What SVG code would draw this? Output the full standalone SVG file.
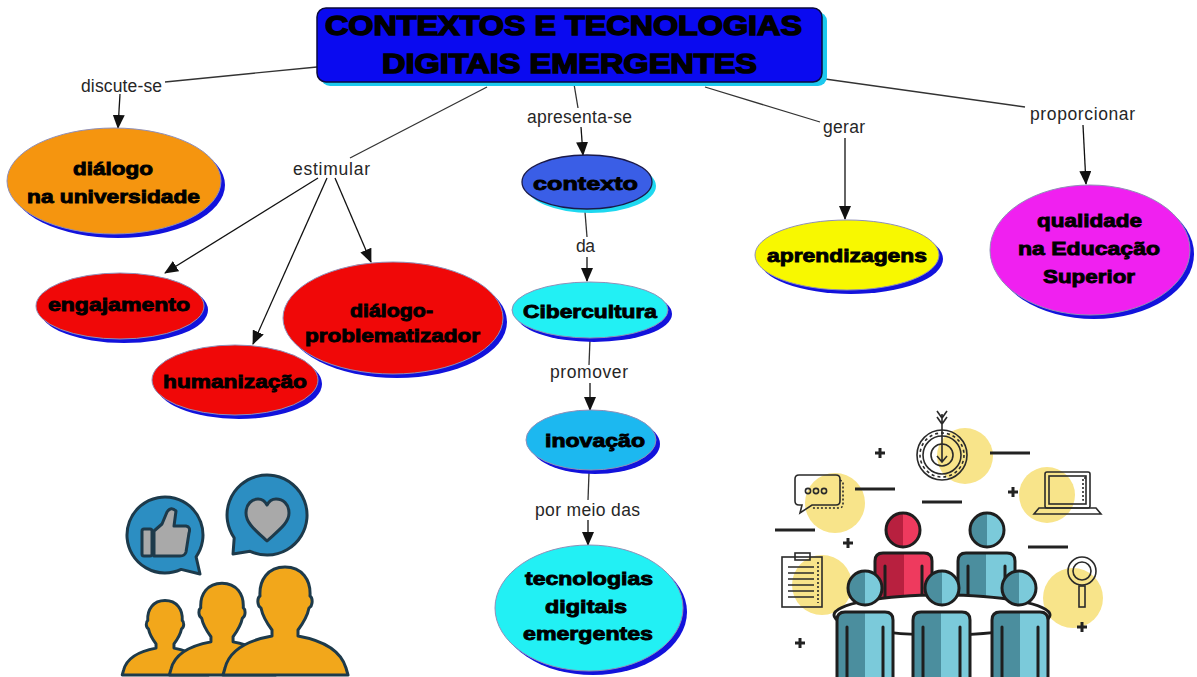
<svg xmlns="http://www.w3.org/2000/svg" width="1197" height="677" viewBox="0 0 1197 677">
  <defs>
    <marker id="arrow" markerUnits="userSpaceOnUse" markerWidth="14" markerHeight="12" refX="13" refY="6" orient="auto">
      <path d="M0,0 L14,6 L0,12 Z" fill="#111"/>
    </marker>
    <linearGradient id="teal" x1="0" y1="0" x2="1" y2="0">
      <stop offset="0" stop-color="#4B8E9E"/>
      <stop offset="0.5" stop-color="#4B8E9E"/>
      <stop offset="0.5" stop-color="#7BCADA"/>
      <stop offset="1" stop-color="#7BCADA"/>
    </linearGradient>
    <linearGradient id="red" x1="0" y1="0" x2="1" y2="0">
      <stop offset="0" stop-color="#B8203F"/>
      <stop offset="0.5" stop-color="#B8203F"/>
      <stop offset="0.5" stop-color="#EE3A5E"/>
      <stop offset="1" stop-color="#EE3A5E"/>
    </linearGradient>
    <path id="person" d="M 0 -108 C 17 -108 26 -95 25 -79 C 28 -77 28 -69 24 -67 C 22 -57 16 -49 13 -45 L 13 -39 C 35 -35 55 -27 61 -7 L 63 0 L -62 0 L -60 -7 C -55 -27 -35 -35 -13 -39 L -13 -45 C -16 -49 -22 -57 -24 -67 C -28 -69 -28 -77 -25 -79 C -26 -95 -17 -108 0 -108 Z"/>
  </defs>
  <style>
    .node { stroke: #8f8fb8; stroke-width: 1; }
    .shadow-blue { fill: #1212DC; }
    .shadow-cyan { fill: #1ED8F0; }
    .ntext { font-family: "Liberation Sans", Arial, sans-serif; font-weight: bold; font-size: 19px; fill: #000; stroke: #000; stroke-width: 0.9; }
    .ttext { font-family: "Liberation Sans", Arial, sans-serif; font-weight: bold; font-size: 28px; fill: #000; stroke: #000; stroke-width: 1.5; }
    .label { font-family: "Liberation Sans", Arial, sans-serif; font-size: 17.5px; fill: #262626; }
    .line { stroke: #333; stroke-width: 1.3; fill: none; }
    .arr { stroke: #111; stroke-width: 1.3; fill: none; marker-end: url(#arrow); }
    .ink { stroke: #1E1E1E; stroke-width: 3; stroke-linejoin: round; stroke-linecap: round; }
    .thin { stroke: #2a2a2a; stroke-width: 1.6; fill: none; }
    .dash { stroke: #222; stroke-width: 3; }
    .sun { fill: #F8E48A; }
    .icon-ink { stroke: #1D3A4B; stroke-width: 3; stroke-linejoin: round; }
  </style>

  <rect width="1197" height="677" fill="#fff"/>

  <!-- connectors -->
  <g id="connectors">
    <path class="line" d="M317,67 L165,82"/>
    <path class="arr" d="M120,94 L118,128"/>
    <path class="line" d="M487,87 L350,158"/>
    <path class="arr" d="M318,178 L165,273"/>
    <path class="arr" d="M327,178 L253,344"/>
    <path class="arr" d="M335,178 L371,262"/>
    <path class="line" d="M574,84 L578,108"/>
    <path class="arr" d="M581,127 L583,155"/>
    <path class="line" d="M585,212 L587,237"/>
    <path class="arr" d="M587,257 L587,281"/>
    <path class="line" d="M590,339 L589,365"/>
    <path class="arr" d="M590,383 L590,410"/>
    <path class="line" d="M589,473 L588,500"/>
    <path class="arr" d="M588,520 L588,545"/>
    <path class="line" d="M705,87 L820,122"/>
    <path class="arr" d="M845,138 L845,219"/>
    <path class="line" d="M825,79 L1025,107"/>
    <path class="arr" d="M1083,125 L1086,184"/>
    <text class="label" x="81" y="92" textLength="81">discute-se</text>
    <text class="label" x="293" y="175" textLength="77">estimular</text>
    <text class="label" x="527" y="123" textLength="105">apresenta-se</text>
    <text class="label" x="576" y="252" textLength="19">da</text>
    <text class="label" x="550" y="378" textLength="78">promover</text>
    <text class="label" x="535" y="516" textLength="105">por meio das</text>
    <text class="label" x="823" y="133" textLength="42">gerar</text>
    <text class="label" x="1030" y="120" textLength="105">proporcionar</text>
  </g>

  <!-- title -->
  <g id="title">
    <rect x="321" y="12" width="506" height="74" rx="9" fill="#1CC8EE"/>
    <rect x="317" y="8" width="505" height="74" rx="9" fill="#0A0AF0" stroke="#0a0a3c" stroke-width="1.5"/>
    <text class="ttext" x="325" y="35" textLength="477" lengthAdjust="spacingAndGlyphs">CONTEXTOS E TECNOLOGIAS</text>
    <text class="ttext" x="382" y="73" textLength="375" lengthAdjust="spacingAndGlyphs">DIGITAIS EMERGENTES</text>
  </g>

  <g id="dialogo-universidade">
    <ellipse class="shadow-blue" cx="118" cy="185" rx="107" ry="53"/>
    <ellipse class="node" cx="114" cy="181" rx="107" ry="53" fill="#F5950F"/>
    <text class="ntext" x="73" y="175" textLength="80" lengthAdjust="spacingAndGlyphs">diálogo</text>
    <text class="ntext" x="27" y="203" textLength="173" lengthAdjust="spacingAndGlyphs">na universidade</text>
  </g>

  <g id="engajamento">
    <ellipse class="shadow-blue" cx="124" cy="310" rx="84" ry="33"/>
    <ellipse class="node" cx="120" cy="306" rx="84" ry="33" fill="#F00808"/>
    <text class="ntext" x="48" y="311" textLength="142" lengthAdjust="spacingAndGlyphs">engajamento</text>
  </g>

  <g id="humanizacao">
    <ellipse class="shadow-blue" cx="239" cy="384" rx="83" ry="35"/>
    <ellipse class="node" cx="235" cy="380" rx="83" ry="35" fill="#F00808"/>
    <text class="ntext" x="163" y="388" textLength="144" lengthAdjust="spacingAndGlyphs">humanização</text>
  </g>

  <g id="dialogo-problematizador">
    <ellipse class="shadow-blue" cx="397" cy="322" rx="110" ry="56"/>
    <ellipse class="node" cx="393" cy="318" rx="110" ry="56" fill="#F00808"/>
    <text class="ntext" x="350" y="317" textLength="83" lengthAdjust="spacingAndGlyphs">diálogo-</text>
    <text class="ntext" x="305" y="342" textLength="175" lengthAdjust="spacingAndGlyphs">problematizador</text>
  </g>

  <g id="contexto">
    <ellipse class="shadow-cyan" cx="591" cy="186" rx="65" ry="27"/>
    <ellipse cx="587" cy="182" rx="65" ry="27" fill="#3A5EE6" stroke="#1a1a4a" stroke-width="1.3"/>
    <text class="ntext" x="533" y="190" textLength="105" lengthAdjust="spacingAndGlyphs">contexto</text>
  </g>

  <g id="cibercultura">
    <ellipse class="shadow-blue" cx="594" cy="314" rx="78" ry="28"/>
    <ellipse class="node" cx="590" cy="310" rx="78" ry="28" fill="#22F0F4"/>
    <text class="ntext" x="523" y="318" textLength="134" lengthAdjust="spacingAndGlyphs">Cibercultura</text>
  </g>

  <g id="inovacao">
    <ellipse class="shadow-blue" cx="595" cy="444" rx="65" ry="30"/>
    <ellipse class="node" cx="591" cy="440" rx="65" ry="30" fill="#1CB8F0"/>
    <text class="ntext" x="545" y="447" textLength="100" lengthAdjust="spacingAndGlyphs">inovação</text>
  </g>

  <g id="tecnologias">
    <ellipse class="shadow-blue" cx="593" cy="612" rx="94" ry="63"/>
    <ellipse class="node" cx="589" cy="608" rx="94" ry="63" fill="#22F0F4"/>
    <text class="ntext" x="525" y="585" textLength="128" lengthAdjust="spacingAndGlyphs">tecnologias</text>
    <text class="ntext" x="545" y="613" textLength="82" lengthAdjust="spacingAndGlyphs">digitais</text>
    <text class="ntext" x="523" y="640" textLength="130" lengthAdjust="spacingAndGlyphs">emergentes</text>
  </g>

  <g id="aprendizagens">
    <ellipse class="shadow-blue" cx="851" cy="259" rx="92" ry="35"/>
    <ellipse class="node" cx="847" cy="255" rx="92" ry="35" fill="#F8F800"/>
    <text class="ntext" x="767" y="262" textLength="160" lengthAdjust="spacingAndGlyphs">aprendizagens</text>
  </g>

  <g id="qualidade">
    <ellipse class="shadow-blue" cx="1094" cy="254" rx="100" ry="65"/>
    <ellipse class="node" cx="1090" cy="250" rx="100" ry="65" fill="#F020F0"/>
    <text class="ntext" x="1037" y="227" textLength="105" lengthAdjust="spacingAndGlyphs">qualidade</text>
    <text class="ntext" x="1018" y="255" textLength="142" lengthAdjust="spacingAndGlyphs">na Educação</text>
    <text class="ntext" x="1043" y="283" textLength="92" lengthAdjust="spacingAndGlyphs">Superior</text>
  </g>

  <!-- left illustration: audience with like / heart bubbles -->
  <g id="social-icon">
    <path class="icon-ink" fill="#2C8EC2" d="M196.1,556.8 L200,574 L181.1,569.4 A38,38 0 1 1 196.1,556.8 Z"/>
    <rect class="icon-ink" x="142" y="529" width="10" height="27" rx="2" fill="#A9A9A9"/>
    <path class="icon-ink" fill="#A9A9A9" d="M154,531 L162,524 L167,512 Q171,506 176,511 L174,526 L186,526 Q191,527 189,533 L186,552 Q185,556 180,556 L154,556 Z"/>
    <path class="icon-ink" fill="#2C8EC2" d="M250.1,551.3 L233,554 L234.2,537.9 A40,40 0 1 1 250.1,551.3 Z"/>
    <path class="icon-ink" fill="#A9A9A9" d="M267,541 C255,530 246,523 246,513 C246,504 252,499 258,499 C262,499 265,501 267,505 C269,501 272,499 276,499 C283,499 289,504 289,513 C289,523 279,530 267,541 Z"/>
    <use href="#person" transform="translate(165,675) scale(0.69)" fill="#F2A71B" stroke="#1D3A4B" stroke-width="4.3" stroke-linejoin="round"/>
    <use href="#person" transform="translate(222,675) scale(0.85)" fill="#F2A71B" stroke="#1D3A4B" stroke-width="3.5" stroke-linejoin="round"/>
    <use href="#person" transform="translate(285,675)" fill="#F2A71B" stroke="#1D3A4B" stroke-width="3" stroke-linejoin="round"/>
  </g>

  <!-- right illustration: team meeting -->
  <g id="team-icon">
    <circle class="sun" cx="965" cy="456" r="28"/>
    <circle class="sun" cx="835" cy="503" r="30"/>
    <circle class="sun" cx="1047" cy="495" r="28"/>
    <circle class="sun" cx="822" cy="585" r="30"/>
    <circle class="sun" cx="1073" cy="598" r="30"/>

    <!-- target -->
    <circle class="thin" cx="942" cy="455" r="25"/>
    <circle class="thin" cx="942" cy="455" r="19"/>
    <circle class="thin" cx="942" cy="455" r="22" stroke-dasharray="3 3"/>
    <circle class="thin" cx="942" cy="455" r="11"/>
    <path class="thin" d="M942,414 L942,462 M937,456 L942,462 L947,456 M937,411 L942,418 L947,411 M937,417 L942,424 L947,417"/>

    <!-- chat bubble -->
    <path class="thin" d="M799,475 L836,475 Q840,475 840,479 L840,501 Q840,505 836,505 L812,505 L800,513 L802,505 L799,505 Q795,505 795,501 L795,479 Q795,475 799,475 Z"/>
    <path class="thin" d="M840,480 L843,482 L843,504 Q843,508 839,508 L812,508" stroke-dasharray="2 2"/>
    <circle class="thin" cx="808" cy="491" r="2.6"/>
    <circle class="thin" cx="816" cy="491" r="2.6"/>
    <circle class="thin" cx="824" cy="491" r="2.6"/>

    <!-- laptop -->
    <rect class="thin" x="1045" y="472" width="45" height="36" rx="2"/>
    <rect class="thin" x="1049" y="476" width="37" height="28"/>
    <path class="thin" d="M1086,478 L1083,478 L1083,500 L1086,500" stroke-dasharray="2 2"/>
    <path class="thin" d="M1039,508 L1096,508 L1101,514 L1034,514 Z"/>

    <!-- clipboard -->
    <rect class="thin" x="782" y="557" width="40" height="50"/>
    <rect class="thin" x="795" y="553" width="15" height="7" fill="#fff"/>
    <path class="thin" d="M788,567 H814 M788,573 H814 M788,579 H814 M788,585 H814 M788,591 H814 M788,597 H814"/>
    <path class="thin" d="M818,562 V603" stroke-dasharray="2 2"/>

    <!-- magnifier -->
    <circle class="thin" cx="1082" cy="571" r="14"/>
    <circle class="thin" cx="1082" cy="571" r="9"/>
    <rect class="thin" x="1079" y="586" width="6" height="21"/>

    <!-- separators and plus marks -->
    <path class="dash" d="M990,453 H1030 M855,489 H895 M922,502 H962 M775,530 H815 M1028,547 H1068"/>
    <path class="dash" d="M875,453 H885 M880,448 V458 M1008,492 H1018 M1013,487 V497 M843,543 H853 M848,538 V548 M1077,627 H1087 M1082,622 V632 M795,643 H805 M800,638 V648"/>

    <!-- back row -->
    <circle class="ink" cx="903" cy="530" r="17" fill="url(#red)"/>
    <path class="ink" fill="url(#red)" d="M875,605 L875,561 Q875,553 883,553 L924,553 Q932,553 932,561 L932,605 Z"/>
    <path class="ink" d="M885,605 V566 M922,605 V566" fill="none"/>
    <circle class="ink" cx="987" cy="530" r="17" fill="url(#teal)"/>
    <path class="ink" fill="url(#teal)" d="M958,605 L958,561 Q958,553 966,553 L1007,553 Q1015,553 1015,561 L1015,605 Z"/>
    <path class="ink" d="M968,605 V566 M1005,605 V566" fill="none"/>

    <!-- table -->
    <ellipse class="ink" cx="942" cy="615" rx="108" ry="20" fill="#fff"/>

    <!-- front row -->
    <circle class="ink" cx="865" cy="588" r="17" fill="url(#teal)"/>
    <path class="ink" fill="url(#teal)" d="M837,680 L837,620 Q837,612 845,612 L885,612 Q893,612 893,620 L893,680 Z"/>
    <path class="ink" d="M847,680 V627 M883,680 V627" fill="none"/>
    <circle class="ink" cx="942" cy="588" r="17" fill="url(#teal)"/>
    <path class="ink" fill="url(#teal)" d="M913,680 L913,620 Q913,612 921,612 L962,612 Q970,612 970,620 L970,680 Z"/>
    <path class="ink" d="M923,680 V627 M960,680 V627" fill="none"/>
    <circle class="ink" cx="1019" cy="588" r="17" fill="url(#teal)"/>
    <path class="ink" fill="url(#teal)" d="M992,680 L992,620 Q992,612 1000,612 L1040,612 Q1048,612 1048,620 L1048,680 Z"/>
    <path class="ink" d="M1002,680 V627 M1038,680 V627" fill="none"/>
  </g>
</svg>
